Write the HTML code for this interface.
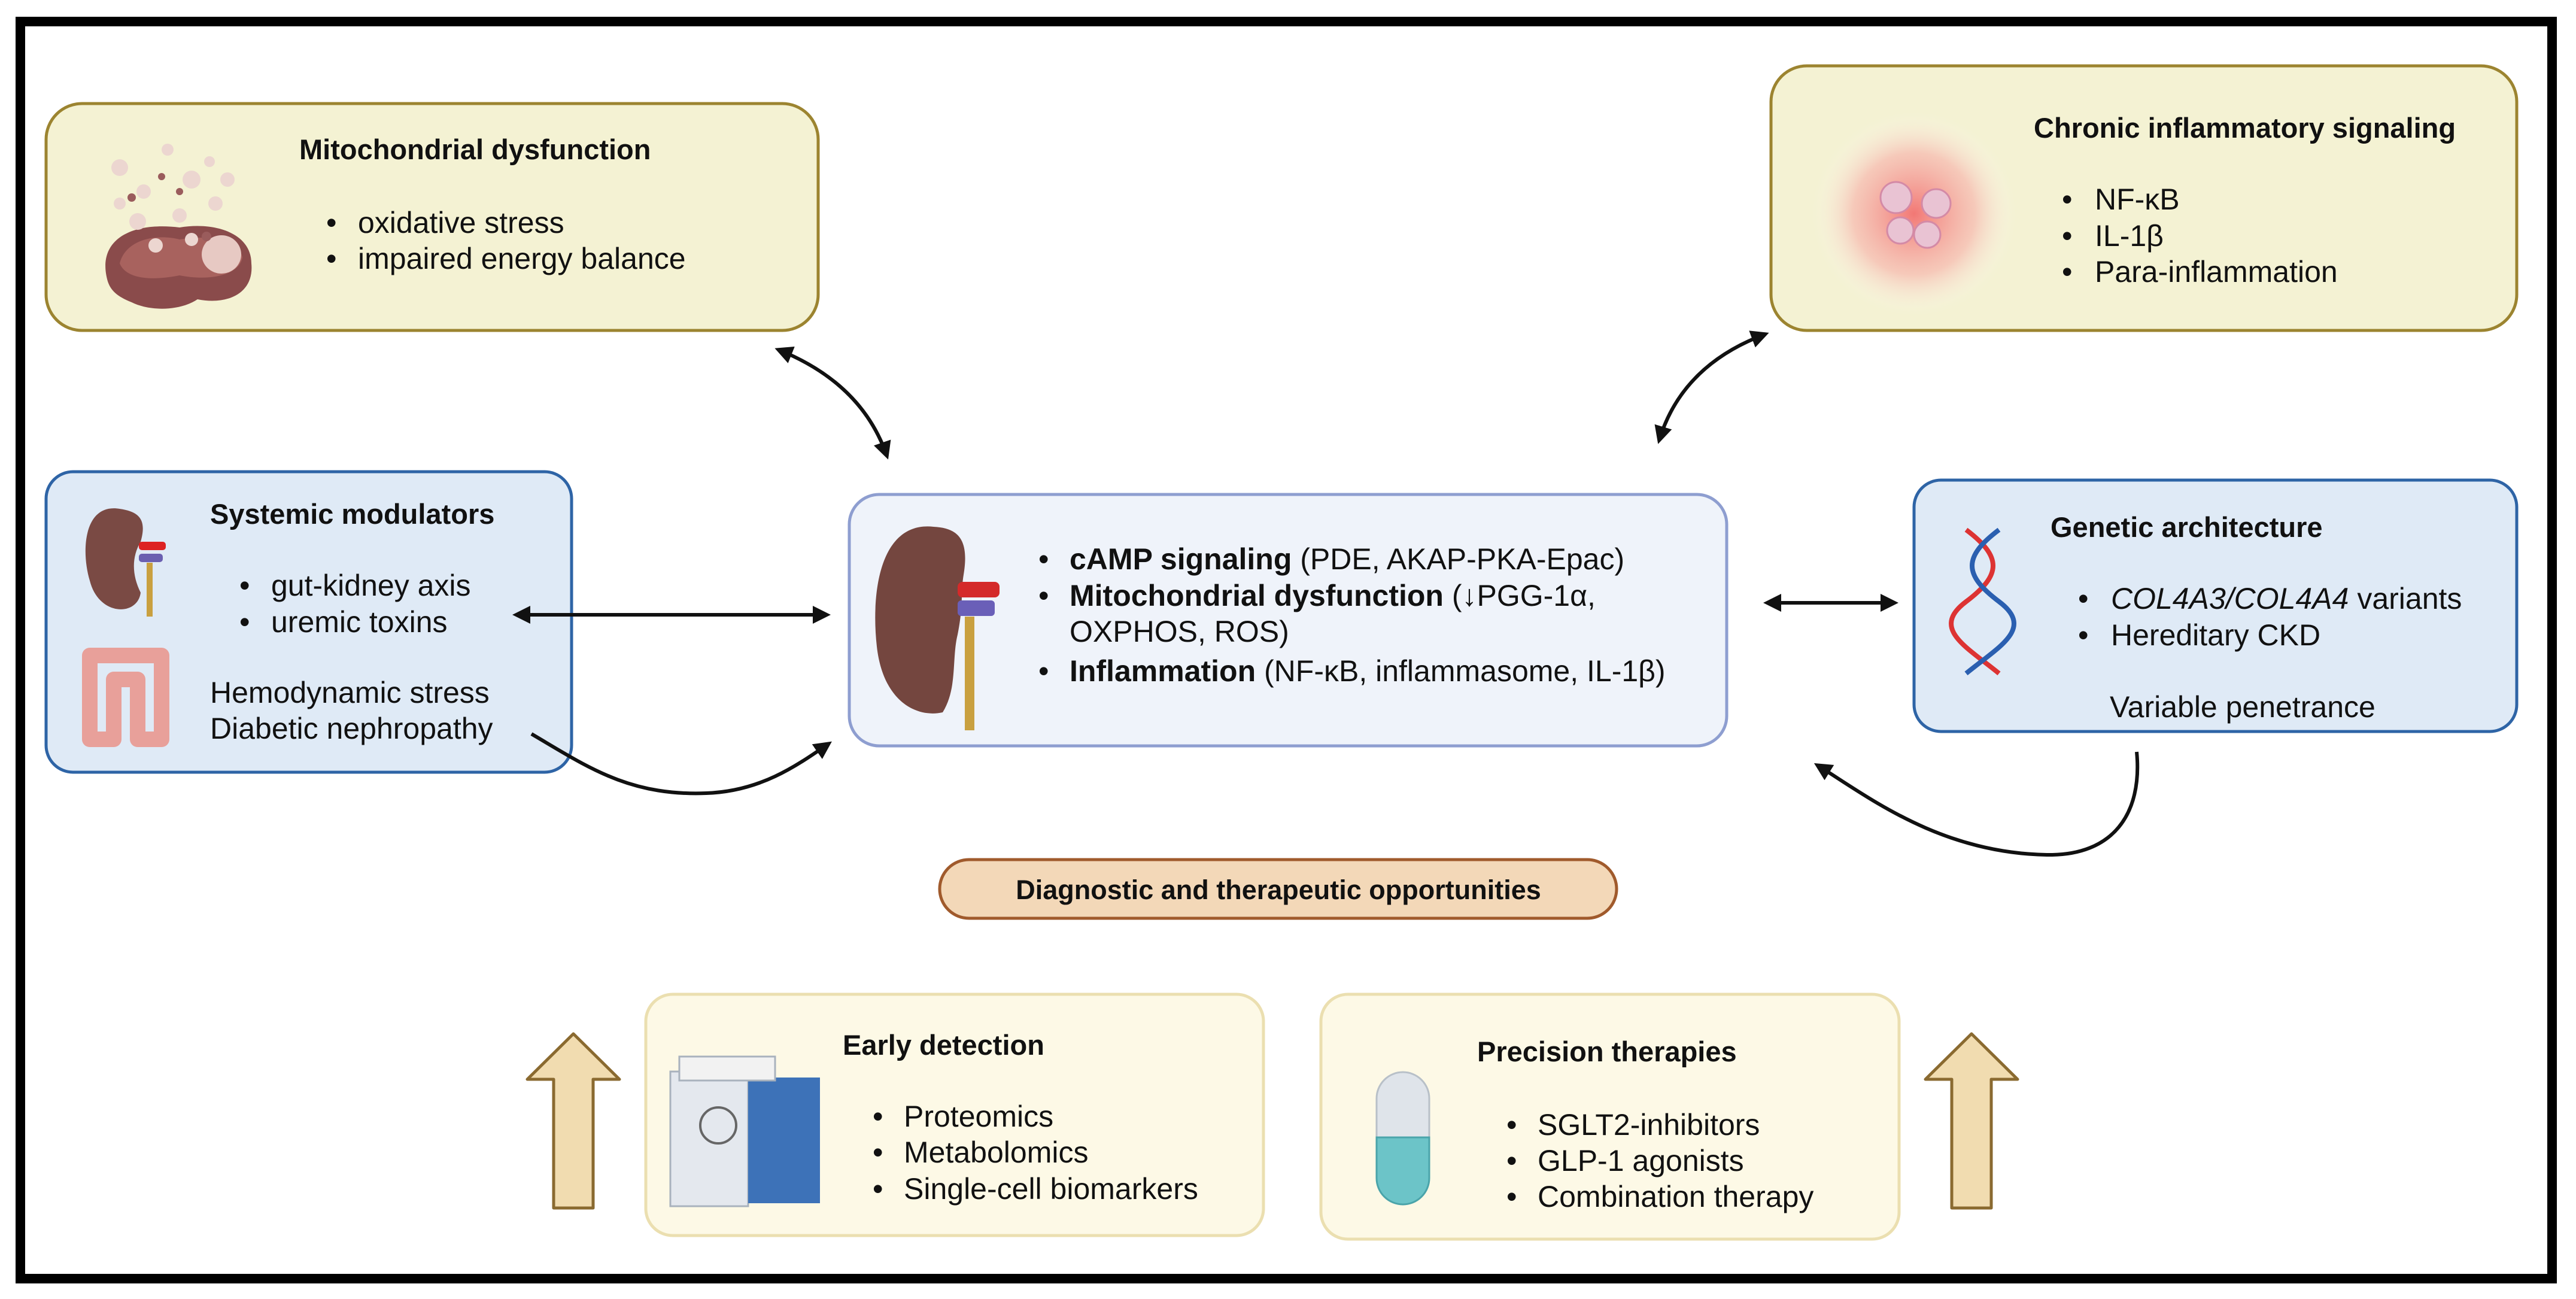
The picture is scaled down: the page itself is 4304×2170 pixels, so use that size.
<!DOCTYPE html>
<html><head><meta charset="utf-8"><style>
html,body{margin:0;padding:0;background:#fff;}
svg{display:block;}
text{font-family:"Liberation Sans",sans-serif;fill:#111;}
.t{font-weight:bold;font-size:47px;}
.b{font-size:50px;}
</style></head><body>
<svg width="4304" height="2170" viewBox="0 0 4304 2170" xmlns="http://www.w3.org/2000/svg">
<defs>
<marker id="ah" viewBox="0 0 10 10" refX="8" refY="5" markerWidth="5" markerHeight="5" orient="auto-start-reverse">
<path d="M0,0 L10,5 L0,10 z" fill="#111"/></marker>
<radialGradient id="glow" cx="50%" cy="50%" r="50%">
<stop offset="0" stop-color="#f26a6a" stop-opacity="0.9"/><stop offset="0.6" stop-color="#f7a0a0" stop-opacity="0.5"/><stop offset="1" stop-color="#fff" stop-opacity="0"/></radialGradient>
</defs>
<rect x="0" y="0" width="4304" height="2170" fill="#fff"/>
<rect x="34" y="36" width="4230" height="2100" fill="none" stroke="#000" stroke-width="16"/>

<!-- Mito box -->
<rect x="77" y="173" width="1290" height="379" rx="60" fill="#f4f2d3" stroke="#9c8430" stroke-width="5"/>
<g>
<path d="M180,470 C160,400 220,370 300,380 C360,370 420,390 420,440 C425,490 380,510 330,500 C300,520 250,520 220,505 C195,495 185,485 180,470 Z" fill="#8a4b4b"/>
<path d="M200,440 C210,400 260,390 300,400 C350,392 400,400 405,430 C400,460 350,470 300,460 C250,470 210,465 200,440 Z" fill="#a8625e"/>
<ellipse cx="370" cy="425" rx="33" ry="32" fill="#e7c9c3"/>
<g fill="#ecd6d0"><circle cx="200" cy="280" r="14"/><circle cx="240" cy="320" r="12"/><circle cx="280" cy="250" r="10"/><circle cx="320" cy="300" r="15"/><circle cx="360" cy="340" r="12"/><circle cx="230" cy="370" r="14"/><circle cx="300" cy="360" r="12"/><circle cx="350" cy="270" r="9"/><circle cx="260" cy="410" r="12"/><circle cx="320" cy="400" r="11"/><circle cx="200" cy="340" r="10"/><circle cx="380" cy="300" r="12"/></g>
<g fill="#9a5c5c"><circle cx="220" cy="330" r="7"/><circle cx="300" cy="320" r="6"/><circle cx="345" cy="395" r="8"/><circle cx="270" cy="295" r="6"/></g>
</g>
<text class="t" x="500" y="266">Mitochondrial dysfunction</text>
<text class="b" x="545" y="389">•</text><text class="b" x="598" y="389">oxidative stress</text>
<text class="b" x="545" y="449">•</text><text class="b" x="598" y="449">impaired energy balance</text>

<!-- Chronic box -->
<rect x="2959" y="110" width="1246" height="442" rx="60" fill="#f4f2d3" stroke="#9c8430" stroke-width="5"/>
<circle cx="3198" cy="357" r="170" fill="url(#glow)"/>
<g fill="#e9c3d3" stroke="#d48aa6" stroke-width="3"><circle cx="3168" cy="330" r="26"/><circle cx="3235" cy="340" r="24"/><circle cx="3175" cy="385" r="22"/><circle cx="3220" cy="392" r="22"/></g>
<text class="t" x="3398" y="230">Chronic inflammatory signaling</text>
<text class="b" x="3445" y="350">•</text><text class="b" x="3500" y="350">NF-κB</text>
<text class="b" x="3445" y="411">•</text><text class="b" x="3500" y="411">IL-1β</text>
<text class="b" x="3445" y="471">•</text><text class="b" x="3500" y="471">Para-inflammation</text>

<!-- Systemic -->
<rect x="77" y="788" width="878" height="502" rx="45" fill="#dfeaf6" stroke="#2e64a6" stroke-width="5"/>
<path d="M200,850 C140,840 135,920 150,970 C165,1030 230,1030 235,990 C220,960 220,930 235,905 C245,870 235,855 200,850 Z" fill="#7a4a44"/>
<rect x="232" y="905" width="45" height="14" fill="#d22" rx="5"/>
<rect x="232" y="925" width="40" height="14" fill="#6a5fb0" rx="5"/>
<rect x="245" y="940" width="10" height="90" fill="#c9a040"/>
<path d="M150,1095 h120 v140 h-40 v-100 h-40 v100 h-40 z" fill="none" stroke="#e8a09a" stroke-width="26" stroke-linejoin="round"/>
<text class="t" x="351" y="875">Systemic modulators</text>
<text class="b" x="400" y="995">•</text><text class="b" x="453" y="995">gut-kidney axis</text>
<text class="b" x="400" y="1056">•</text><text class="b" x="453" y="1056">uremic toxins</text>
<text class="b" x="351" y="1174">Hemodynamic stress</text>
<text class="b" x="351" y="1234">Diabetic nephropathy</text>

<!-- Center -->
<rect x="1419" y="826" width="1466" height="420" rx="50" fill="#eff3fa" stroke="#8e9ed0" stroke-width="5"/>
<path d="M1560,880 C1470,870 1455,990 1465,1080 C1475,1170 1530,1200 1575,1190 C1600,1150 1590,1100 1600,1060 C1610,1010 1605,990 1610,960 C1620,900 1600,882 1560,880 Z" fill="#74463f"/>
<rect x="1600" y="972" width="70" height="26" rx="8" fill="#d42a2a"/>
<rect x="1600" y="1003" width="62" height="26" rx="6" fill="#6a5fb8"/>
<rect x="1612" y="1030" width="16" height="190" fill="#c9a040"/>
<text class="b" x="1735" y="951">•</text><text class="b" x="1787" y="951"><tspan font-weight="bold">cAMP signaling</tspan> (PDE, AKAP-PKA-Epac)</text>
<text class="b" x="1735" y="1012">•</text><text class="b" x="1787" y="1012"><tspan font-weight="bold">Mitochondrial dysfunction</tspan> (↓PGG-1α,</text>
<text class="b" x="1787" y="1072">OXPHOS, ROS)</text>
<text class="b" x="1735" y="1138">•</text><text class="b" x="1787" y="1138"><tspan font-weight="bold">Inflammation</tspan> (NF-κB, inflammasome, IL-1β)</text>

<!-- Genetic -->
<rect x="3198" y="802" width="1007" height="420" rx="45" fill="#dfeaf6" stroke="#2e64a6" stroke-width="5"/>
<path d="M3285,885 C3345,930 3345,960 3285,1005 C3225,1050 3285,1080 3340,1125" fill="none" stroke="#d33" stroke-width="8"/>
<path d="M3340,885 C3280,930 3280,960 3340,1005 C3400,1050 3340,1080 3285,1125" fill="none" stroke="#2a5fb0" stroke-width="8"/>
<text class="t" x="3426" y="897">Genetic architecture</text>
<text class="b" x="3472" y="1017">•</text><text class="b" x="3527" y="1017"><tspan font-style="italic">COL4A3/COL4A4</tspan> variants</text>
<text class="b" x="3472" y="1078">•</text><text class="b" x="3527" y="1078">Hereditary CKD</text>
<text class="b" x="3525" y="1198">Variable penetrance</text>

<!-- Pill -->
<rect x="1570" y="1436" width="1131" height="98" rx="49" fill="#f3d8b8" stroke="#a05a2c" stroke-width="5"/>
<text class="t" x="2136" y="1502" text-anchor="middle" style="font-size:45px">Diagnostic and therapeutic opportunities</text>

<!-- Early -->
<rect x="1079" y="1661" width="1032" height="403" rx="45" fill="#fdf9e6" stroke="#ebdfb0" stroke-width="5"/>
<rect x="1120" y="1790" width="130" height="225" fill="#e4e8ee" stroke="#a9b2bd" stroke-width="3"/>
<rect x="1250" y="1800" width="120" height="210" fill="#3d72b8"/>
<rect x="1135" y="1765" width="160" height="40" fill="#f2f2f2" stroke="#a9b2bd" stroke-width="3"/>
<circle cx="1200" cy="1880" r="30" fill="none" stroke="#666" stroke-width="4"/>
<text class="t" x="1408" y="1762">Early detection</text>
<text class="b" x="1458" y="1882">•</text><text class="b" x="1510" y="1882">Proteomics</text>
<text class="b" x="1458" y="1942">•</text><text class="b" x="1510" y="1942">Metabolomics</text>
<text class="b" x="1458" y="2003">•</text><text class="b" x="1510" y="2003">Single-cell biomarkers</text>

<!-- Precision -->
<rect x="2207" y="1661" width="966" height="409" rx="45" fill="#fdf9e6" stroke="#ebdfb0" stroke-width="5"/>
<path d="M2300,1835 a44,44 0 0 1 88,0 v65 h-88 z" fill="#dfe4ea" stroke="#b8c0c8" stroke-width="3"/>
<path d="M2300,1900 h88 v68 a44,44 0 0 1 -88,0 z" fill="#6cc4c8" stroke="#4aa4aa" stroke-width="3"/>
<text class="t" x="2468" y="1773">Precision therapies</text>
<text class="b" x="2517" y="1896">•</text><text class="b" x="2569" y="1896">SGLT2-inhibitors</text>
<text class="b" x="2517" y="1956">•</text><text class="b" x="2569" y="1956">GLP-1 agonists</text>
<text class="b" x="2517" y="2016">•</text><text class="b" x="2569" y="2016">Combination therapy</text>

<!-- Up arrows -->
<path d="M958,1727 L1035,1803 L991,1803 L991,2018 L925,2018 L925,1803 L881,1803 Z" fill="#f1dcb0" stroke="#8a6a30" stroke-width="5" stroke-linejoin="round"/>
<path d="M3294,1727 L3371,1803 L3327,1803 L3327,2018 L3261,2018 L3261,1803 L3217,1803 Z" fill="#f1dcb0" stroke="#8a6a30" stroke-width="5" stroke-linejoin="round"/>

<!-- Connectors -->
<g fill="none" stroke="#111" stroke-width="6">
<path d="M1300,584 Q1440,640 1482,762" marker-start="url(#ah)" marker-end="url(#ah)"/>
<path d="M2950,558 Q2810,610 2772,736" marker-start="url(#ah)" marker-end="url(#ah)"/>
<path d="M862,1027 L1382,1027" marker-start="url(#ah)" marker-end="url(#ah)"/>
<path d="M888,1226 C980,1280 1050,1330 1180,1325 C1270,1322 1330,1280 1385,1242" marker-end="url(#ah)"/>
<path d="M2952,1007 L3166,1007" marker-start="url(#ah)" marker-end="url(#ah)"/>
<path d="M3570,1256 C3580,1360 3530,1430 3420,1428 C3240,1425 3120,1330 3036,1278" marker-end="url(#ah)"/>
</g>
</svg>
</body></html>
